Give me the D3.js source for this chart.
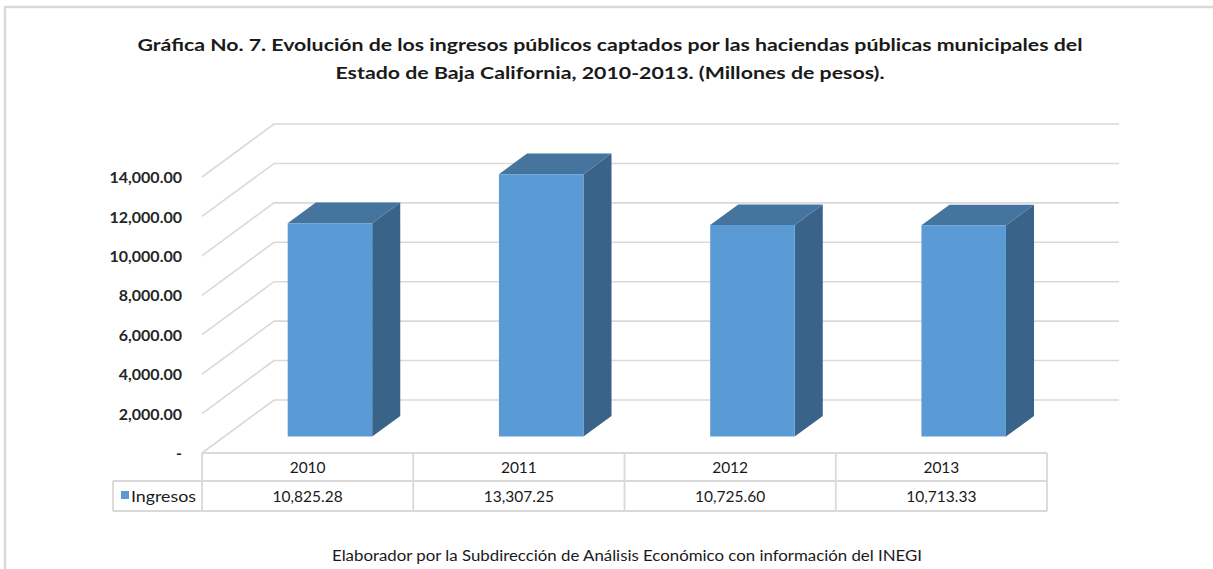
<!DOCTYPE html>
<html><head><meta charset="utf-8">
<script src="https://cdn.jsdelivr.net/npm/d3@7"></script>
<style>html,body{margin:0;padding:0;background:#fff;}svg{display:block;}</style>
</head><body>
<svg id="chart" width="1213" height="569"></svg>
<script>
const categories = ["2010", "2011", "2012", "2013"];
const seriesName = "Ingresos";
const values = [10825.28, 13307.25, 10725.60, 10713.33];
const tickValues = [0, 2000, 4000, 6000, 8000, 10000, 12000, 14000];
const titleLines = [
  "Gráfica No. 7. Evolución de los ingresos públicos captados por las haciendas públicas municipales del",
  "Estado de Baja California, 2010-2013. (Millones de pesos)."
];
const footer = "Elaborador por la Subdirección de Análisis Económico con información del INEGI";

const svg = d3.select("#chart");
const FONT = "Lato, 'Open Sans', sans-serif";
const DX = 72, DY = -53;           // depth projection of the 3D box
const Z0 = 0.31, Z1 = 0.70;        // bar depth range
const grid = "#d9d9d9";

// frame
svg.append("line").attr("x1", 5).attr("x2", 1213).attr("y1", 7).attr("y2", 7).attr("stroke", "#d9d9d9").attr("stroke-width", 2.5);
svg.append("line").attr("x1", 5).attr("x2", 5).attr("y1", 6).attr("y2", 569).attr("stroke", "#d9d9d9").attr("stroke-width", 2.5);

// title
const tw = [945, 549];
titleLines.forEach((t, i) => {
  svg.append("text").attr("x", 610).attr("y", 51 + i * 28).attr("text-anchor", "middle")
    .attr("font-family", FONT).attr("font-weight", "bold").attr("font-size", 17.5).attr("fill", "#1a1a1a")
    .attr("textLength", tw[i]).attr("lengthAdjust", "spacingAndGlyphs").text(t);
});

const x = d3.scaleBand().domain(categories).range([202, 1047]).paddingInner(0).paddingOuter(0);
const y = d3.scaleLinear().domain([0, 14000]).range([453, 177]);
const P = (px, py, z) => [px + DX * z, py + DY * z];

// gridlines: side wall diagonals + back wall horizontals
const g = svg.append("g");
tickValues.forEach(v => {
  const a = P(x.range()[0], y(v), 0), b = P(x.range()[0], y(v), 1), c = P(x.range()[1], y(v), 1);
  g.append("polyline").attr("points", [a, b, c].map(p => p.join(",")).join(" "))
    .attr("fill", "none").attr("stroke", grid).attr("stroke-width", 1.6);
});

// y tick labels
const fmt = v => v === 0 ? "-" : d3.format(",.2f")(v);
const axis = d3.axisLeft(y).tickValues(tickValues).tickFormat(fmt).tickSize(0).tickPadding(0);
const ag = svg.append("g").attr("transform", "translate(182,0)").call(axis);
ag.select(".domain").remove();
ag.selectAll("text").attr("font-family", FONT).attr("font-weight", "bold").attr("font-size", 16).attr("fill", "#262626")
  .attr("dy", "0.35em");

// bars
const bw = x.bandwidth() * 0.4;
const bars = svg.append("g");
categories.forEach((c, i) => {
  const x0 = x(c) + (x.bandwidth() - bw) / 2, x1 = x0 + bw;
  const top = y(values[i]), base = y(0);
  const poly = (pts, fill) => bars.append("polygon").attr("points", pts.map(p => p.join(",")).join(" ")).attr("fill", fill);
  poly([P(x1, top, Z0), P(x1, base, Z0), P(x1, base, Z1), P(x1, top, Z1)], "#3a6389");
  poly([P(x0, top, Z0), P(x1, top, Z0), P(x1, top, Z1), P(x0, top, Z1)], "#45749f");
  poly([P(x0, top, Z0), P(x1, top, Z0), P(x1, base, Z0), P(x0, base, Z0)], "#5b9bd5");
});

// data table
const t = svg.append("g");
const rowTop = 453, rowMid = 481, rowBot = 511, legL = 113;
const ln = (x1, y1, x2, y2) => t.append("line").attr("x1", x1).attr("y1", y1).attr("x2", x2).attr("y2", y2)
  .attr("stroke", grid).attr("stroke-width", 1.8);
ln(202, rowTop, 1047, rowTop);
ln(legL, rowMid, 1047, rowMid);
ln(legL, rowBot, 1047, rowBot);
ln(legL, rowMid, legL, rowBot);
categories.forEach(c => ln(x(c), rowTop, x(c), rowBot));
ln(1047, rowTop, 1047, rowBot);
categories.forEach((c, i) => {
  t.append("text").attr("x", x(c) + x.bandwidth() / 2).attr("y", 473).attr("text-anchor", "middle")
    .attr("font-family", FONT).attr("font-size", 15.5).attr("fill", "#1a1a1a").text(c);
  t.append("text").attr("x", x(c) + x.bandwidth() / 2).attr("y", 501.5).attr("text-anchor", "middle")
    .attr("font-family", FONT).attr("font-size", 15.5).attr("fill", "#1a1a1a").text(d3.format(",.2f")(values[i]));
});
t.append("rect").attr("x", 121).attr("y", 491).attr("width", 8).attr("height", 8).attr("fill", "#5b9bd5");
t.append("text").attr("x", 131).attr("y", 501.5).attr("font-family", FONT).attr("font-size", 15.5).attr("fill", "#1a1a1a")
  .attr("textLength", 65).attr("lengthAdjust", "spacingAndGlyphs").text(seriesName);

// footer
svg.append("text").attr("x", 627).attr("y", 561).attr("text-anchor", "middle")
  .attr("font-family", FONT).attr("font-size", 14.5).attr("fill", "#1a1a1a")
  .attr("textLength", 590).attr("lengthAdjust", "spacingAndGlyphs").text(footer);
</script>
</body></html>
